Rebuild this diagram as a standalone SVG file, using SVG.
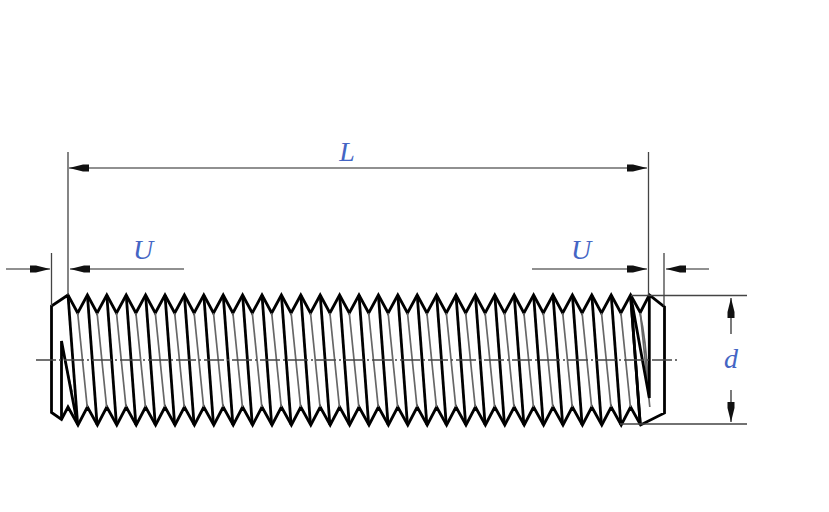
<svg xmlns="http://www.w3.org/2000/svg" xmlns:xlink="http://www.w3.org/1999/xlink" width="829" height="512" viewBox="0 0 829 512">
<style>
.thick{fill:none;stroke:#000;stroke-width:2.8;stroke-linejoin:miter}
.thin{fill:none;stroke:#666;stroke-width:1.7}
.dim{fill:none;stroke:#222;stroke-width:1.2}
.ext{fill:none;stroke:#444;stroke-width:1.3}
.lab{font-family:"Liberation Serif",serif;font-style:italic;font-size:28px;fill:#4465c4;text-anchor:middle}
</style>
<defs>
<marker id="ah" markerUnits="userSpaceOnUse" markerWidth="20" markerHeight="10" refX="20" refY="5" orient="auto-start-reverse">
<path d="M0 1.5 L6 1.5 L20 5 L6 8.5 L0 8.5Z" fill="#111"/>
</marker>
<g id="unit">
<path class="thin" d="M77.7 313L87.2 407"/>
<path class="thick" d="M68 295L77.7 425"/>
</g>
</defs>
<rect width="829" height="512" fill="#fff"/>
<g id="bolt">
<path class="thick" d="M68 295L51.5 306V412.5L61.5 419.5L68 407L78 425L87.4 407L97.4 425L106.8 407L116.8 425L126.2 407L136.2 425L145.6 407L155.6 425L165 407L175 425L184.4 407L194.4 425L203.8 407L213.8 425L223.2 407L233.2 425L242.6 407L252.6 425L262 407L272 425L281.4 407L291.4 425L300.8 407L310.8 425L320.2 407L330.2 425L339.6 407L349.6 425L359 407L369 425L378.4 407L388.4 425L397.8 407L407.8 425L417.2 407L427.2 425L436.6 407L446.6 425L456 407L466 425L475.4 407L485.4 425L494.8 407L504.8 425L514.2 407L524.2 425L533.6 407L543.6 425L553 407L563 425L572.4 407L582.4 425L591.8 407L601.8 425L611.2 407L621.2 425L630.6 407L640.6 425L664.5 413V307L649.3 295L640.3 312.5L630.6 295L620.9 313L611.2 295L601.5 313L591.8 295L582.1 313L572.4 295L562.7 313L553 295L543.3 313L533.6 295L523.9 313L514.2 295L504.5 313L494.8 295L485.1 313L475.4 295L465.7 313L456 295L446.3 313L436.6 295L426.9 313L417.2 295L407.5 313L397.8 295L388.1 313L378.4 295L368.7 313L359 295L349.3 313L339.6 295L329.9 313L320.2 295L310.5 313L300.8 295L291.1 313L281.4 295L271.7 313L262 295L252.3 313L242.6 295L232.9 313L223.2 295L213.5 313L203.8 295L194.1 313L184.4 295L174.7 313L165 295L155.3 313L145.6 295L135.9 313L126.2 295L116.5 313L106.8 295L97.1 313L87.4 295L77.7 313Z"/>
<use xlink:href="#unit"/>
<use xlink:href="#unit" x="19.4"/>
<use xlink:href="#unit" x="38.8"/>
<use xlink:href="#unit" x="58.2"/>
<use xlink:href="#unit" x="77.6"/>
<use xlink:href="#unit" x="97"/>
<use xlink:href="#unit" x="116.4"/>
<use xlink:href="#unit" x="135.8"/>
<use xlink:href="#unit" x="155.2"/>
<use xlink:href="#unit" x="174.6"/>
<use xlink:href="#unit" x="194"/>
<use xlink:href="#unit" x="213.4"/>
<use xlink:href="#unit" x="232.8"/>
<use xlink:href="#unit" x="252.2"/>
<use xlink:href="#unit" x="271.6"/>
<use xlink:href="#unit" x="291"/>
<use xlink:href="#unit" x="310.4"/>
<use xlink:href="#unit" x="329.8"/>
<use xlink:href="#unit" x="349.2"/>
<use xlink:href="#unit" x="368.6"/>
<use xlink:href="#unit" x="388"/>
<use xlink:href="#unit" x="407.4"/>
<use xlink:href="#unit" x="426.8"/>
<use xlink:href="#unit" x="446.2"/>
<use xlink:href="#unit" x="465.6"/>
<use xlink:href="#unit" x="485"/>
<use xlink:href="#unit" x="504.4"/>
<use xlink:href="#unit" x="523.8"/>
<use xlink:href="#unit" x="543.2"/>
<use xlink:href="#unit" x="562.6"/>
<path class="thin" d="M61.5 345L72 392"/>
<path class="thin" d="M640 313Q646 340 648 380"/>
<path class="thick" d="M61.5 419.5V341L77 422"/>
<path class="thick" d="M649.3 295V398L630.6 295L640.3 425"/>
<path class="ext" stroke="#222" stroke-dasharray="20 3 2 3" d="M36 360H680"/>
</g>
<g id="connectors">
<path class="ext" d="M68 152V295M51.5 253V306M648.5 152V295M664 253V306M631 295.5H747M620 424H747"/>
<path class="dim" marker-start="url(#ah)" marker-end="url(#ah)" d="M69 168H647"/>
<path class="dim" marker-end="url(#ah)" d="M6 269H50"/>
<path class="dim" marker-start="url(#ah)" d="M70 269H184"/>
<path class="dim" marker-end="url(#ah)" d="M532 269H647"/>
<path class="dim" marker-start="url(#ah)" d="M666 269H709"/>
<path class="dim" marker-start="url(#ah)" d="M731 298V334"/>
<path class="dim" marker-end="url(#ah)" d="M731 390V422"/>
</g>
<g id="labels">
<text class="lab" x="347" y="160.5">L</text>
<text class="lab" x="143" y="258.5">U</text>
<text class="lab" x="581" y="258.5">U</text>
<text class="lab" x="731" y="367.5">d</text>
</g>
</svg>
